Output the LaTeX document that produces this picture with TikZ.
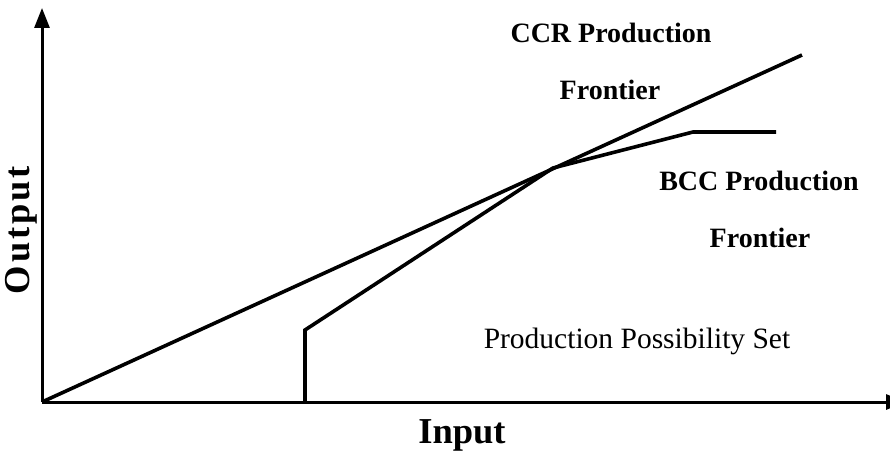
\documentclass[tikz,border=0pt]{standalone}
\usepackage{fontspec}
\setmainfont{Liberation Serif}
\usepackage{tikz}
\usetikzlibrary{arrows.meta}

\begin{document}
\begin{tikzpicture}[
        x=1pt, y=-1pt,
        axis/.style={
            line width=3pt,
            -{Triangle[width=15pt,length=20pt]}
        },
        frontier/.style={
            line width=3.6pt,
            line join=miter
        },
        label/.style={
            anchor=base,
            inner sep=0pt,
            font=\fontsize{28}{33}\selectfont\bfseries
        },
        setlabel/.style={
            anchor=base,
            inner sep=0pt,
            font=\fontsize{29.5}{34}\selectfont
        },
        axislabel/.style={
            anchor=base,
            inner sep=0pt,
            font=\fontsize{36.5}{42}\selectfont\bfseries
        }
    ]
        \useasboundingbox (0,0) rectangle (890,457);

        % Points of the axes and the frontiers
        \coordinate (origin) at (42,402);
        \coordinate (ytop) at (42,8);
        \coordinate (xend) at (906,402);
        \coordinate (ccrend) at (802,55);
        \coordinate (bcca) at (305,402);
        \coordinate (bccb) at (305,330);
        \coordinate (bccc) at (553,168);
        \coordinate (bccd) at (693,132);
        \coordinate (bcce) at (776,132);

        % Axes
        \draw[axis] (origin) -- (ytop);
        \draw[axis] (origin) -- (xend);

        % Frontiers
        \draw[frontier] (origin) -- (ccrend);
        \draw[frontier] (bcca) -- (bccb) -- (bccc) -- (bccd) -- (bcce);

        % Labels
        \node[label] (ccr1) at (611,43) {CCR Production};
        \node[label] (ccr2) at (610,100) {Frontier};
        \node[label] (bcc1) at (759,190) {BCC Production};
        \node[label] (bcc2) at (760,247) {Frontier};
        \node[setlabel] (pps) at (637,348) {Production Possibility Set};
        \node[axislabel] (xlab) at (462,443) {Input};
        \node[axislabel, rotate=90] (ylab) at (29,230) {\addfontfeature{LetterSpace=8}Output};
\end{tikzpicture}
\end{document}
